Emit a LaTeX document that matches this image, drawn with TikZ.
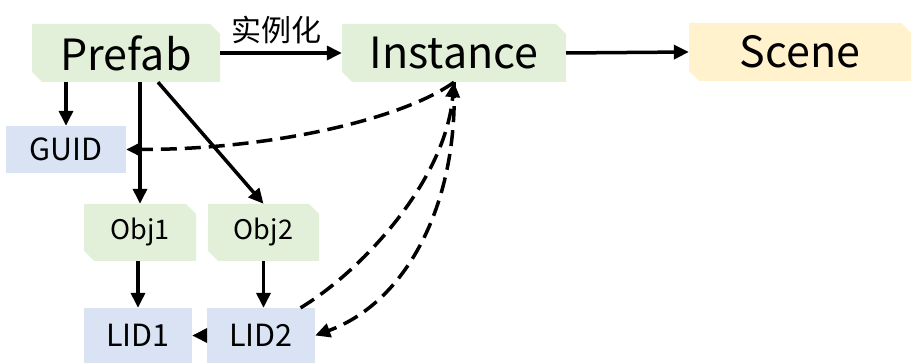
\documentclass[tikz,border=0pt]{standalone}
\usepackage{fontspec}
\setmainfont{Noto Sans CJK SC}
\usetikzlibrary{arrows.meta}

\definecolor{boxgreen}{HTML}{E2F0D9}
\definecolor{boxblue}{HTML}{DAE3F3}
\definecolor{boxyellow}{HTML}{FFF2CC}

\tikzset{
  snipbox/.style={inner sep=0pt, path picture={
    \fill[#1] (path picture bounding box.north west)
      -- ([xshift=-10pt]path picture bounding box.north east)
      -- ([yshift=-10pt]path picture bounding box.north east)
      -- (path picture bounding box.south east)
      -- ([xshift=10pt]path picture bounding box.south west)
      -- ([yshift=10pt]path picture bounding box.south west) -- cycle;}},
  idbox/.style={fill=boxblue, inner sep=0pt},
  bigtext/.style={font=\fontsize{43}{50}\selectfont},
  midtext/.style={font=\fontsize{30.5}{36}\selectfont},
  smalltext/.style={font=\fontsize{27}{32}\selectfont},
  arr/.style={line width=3.5pt, -{Triangle[length=15pt,width=14pt]}},
  dasharr/.style={arr, dash pattern=on 16pt off 8pt}
}

\begin{document}
\begin{tikzpicture}[x=1pt, y=1pt]
\useasboundingbox (0,0) rectangle (913,364);

% top row
\node[snipbox=boxgreen, bigtext, minimum width=188pt, minimum height=58pt] (Prefab) at (126,311) {Prefab};
\node[snipbox=boxgreen, bigtext, minimum width=224pt, minimum height=58pt] (Instance) at (454,311) {Instance};
\node[snipbox=boxyellow, bigtext, minimum width=222pt, minimum height=58pt] (Scene) at (800,312) {Scene};

% ids and objects
\node[idbox, midtext, minimum width=120pt, minimum height=47pt] (GUID) at (66,214.5) {GUID};
\node[snipbox=boxgreen, smalltext, minimum width=112pt, minimum height=57pt] (Obj1) at (140,131.5) {Obj1};
\node[snipbox=boxgreen, smalltext, minimum width=111pt, minimum height=57pt] (Obj2) at (263.5,131.5) {Obj2};
\node[idbox, midtext, minimum width=108pt, minimum height=55pt] (LID1) at (138,28.5) {LID1};
\node[idbox, midtext, minimum width=108pt, minimum height=55pt] (LID2) at (261,28.5) {LID2};

\draw[arr] (Prefab.east) -- (Instance.west)
  node[pos=0.46, above=4pt, font=\fontsize{30}{34}\selectfont] {实例化};
\draw[arr] (Instance.east) -- (Scene.west);

\draw[arr] (Prefab.south -| GUID.north) -- (GUID.north);
\draw[arr] (Prefab.south -| Obj1.north) -- (Obj1.north);
\draw[arr] ([xshift=32pt]Prefab.south) -- (Obj2.north);
\draw[arr] (Obj1.south -| LID1.north) -- (LID1.north);
\draw[arr] (Obj2.south) -- (Obj2.south |- LID2.north);
\draw[arr] (LID2.west) -- (LID1.east);

% dashed links
\draw[dasharr] (Instance.south) .. controls +(-144:60) and +(0:150) .. (GUID.east);
\draw[dasharr] (LID2.35) .. controls +(31:70) and +(-95:100) .. (Instance.south);
\draw[dasharr] (Instance.south) .. controls +(-88:125) and +(20:95) .. (LID2.east);
\end{tikzpicture}
\end{document}
